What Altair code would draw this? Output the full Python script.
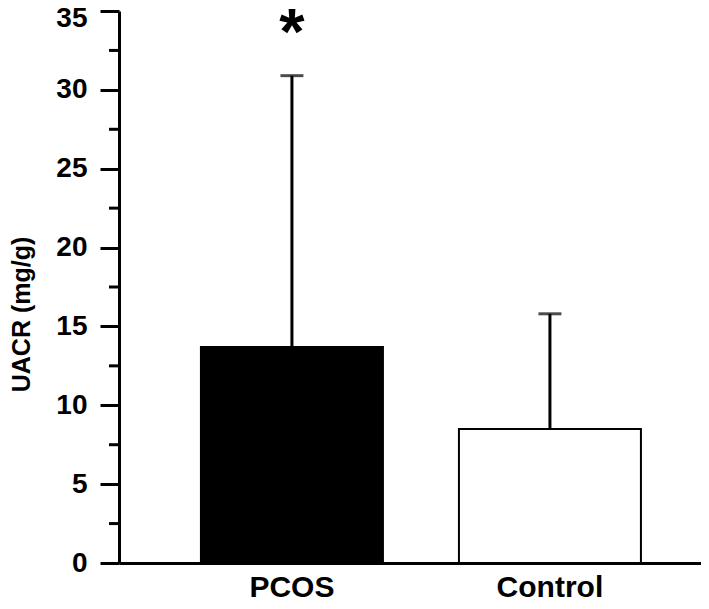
import altair as alt
import pandas as pd

groups = ["PCOS", "Control"]
means = [13.7, 8.5]
sds = [17.2, 7.3]
fills = ["black", "white"]
major_ticks = [0, 5, 10, 15, 20, 25, 30, 35]
minor_ticks = [2.5, 7.5, 12.5, 17.5, 22.5, 27.5, 32.5]
sig_group = ["PCOS"]
sig_label = ["*"]
sig_y = [32.3]

FONT = "Liberation Sans"

df = pd.DataFrame({
    "group": groups,
    "mean": means,
    "upper": [m + s for m, s in zip(means, sds)],
    "fill": fills,
})
minor_df = pd.DataFrame({"v": minor_ticks})
sig_df = pd.DataFrame({"group": sig_group, "label": sig_label, "y": sig_y})

x_scale = alt.Scale(domain=groups, paddingInner=0.2946, paddingOuter=0.2752, align=0.577)
x_axis = alt.Axis(title=None, labelAngle=0, ticks=False, labelFontSize=30,
                  labelFontWeight="bold", labelPadding=9, domainWidth=3,
                  domainColor="black", labelColor="black", labelFont=FONT)
y_scale = alt.Scale(domain=[0, 35], nice=False)
y_axis = alt.Axis(values=major_ticks, tickSize=19, tickWidth=3, tickColor="black",
                  domainWidth=3, domainColor="black", labelFontSize=28,
                  labelFontWeight="bold", labelColor="black", labelFont=FONT,
                  labelPadding=13, grid=False, title="UACR (mg/g)",
                  titleFont=FONT, titleFontSize=25, titleFontWeight="bold",
                  titleColor="black", titleAngle=270, titleAlign="center",
                  titleBaseline="alphabetic", titleX=-90, titleY=303,
                  labelOffset={"condition": {"test": "datum.value == 35", "value": 7}, "value": 0})


def xenc():
    return alt.X("group:N", sort=groups, scale=x_scale, axis=x_axis)


bars = alt.Chart(df).mark_bar(stroke="black", strokeWidth=2).encode(
    x=xenc(),
    y=alt.Y("mean:Q", scale=y_scale, axis=y_axis),
    fill=alt.Fill("fill:N", scale=None),
)

err = alt.Chart(df).mark_rule(strokeWidth=3, color="black").encode(
    x=xenc(),
    y=alt.Y("mean:Q", scale=y_scale, axis=y_axis),
    y2="upper:Q",
)

caps = alt.Chart(df).mark_tick(size=23, thickness=3, color="black").encode(
    x=xenc(),
    y=alt.Y("upper:Q", scale=y_scale, axis=y_axis),
)

minor = alt.Chart(minor_df).mark_rule(strokeWidth=3, color="black").encode(
    x=alt.value(-10),
    x2=alt.value(0),
    y=alt.Y("v:Q", scale=y_scale, axis=y_axis),
)

sig = alt.Chart(sig_df).mark_text(fontSize=65, fontWeight="bold", font=FONT,
                                  baseline="alphabetic", color="black").encode(
    x=xenc(),
    y=alt.Y("y:Q", scale=y_scale, axis=y_axis),
    text="label:N",
)

chart = alt.layer(bars, err, caps, minor, sig).properties(
    width=582,
    height=552,
    autosize=alt.AutoSizeParams(type="none"),
    padding={"left": 111, "top": 3, "right": 0, "bottom": 38},
    background="white",
).configure_view(stroke=None)

chart.save("out.html", embed_options={"renderer": "svg", "actions": False})
